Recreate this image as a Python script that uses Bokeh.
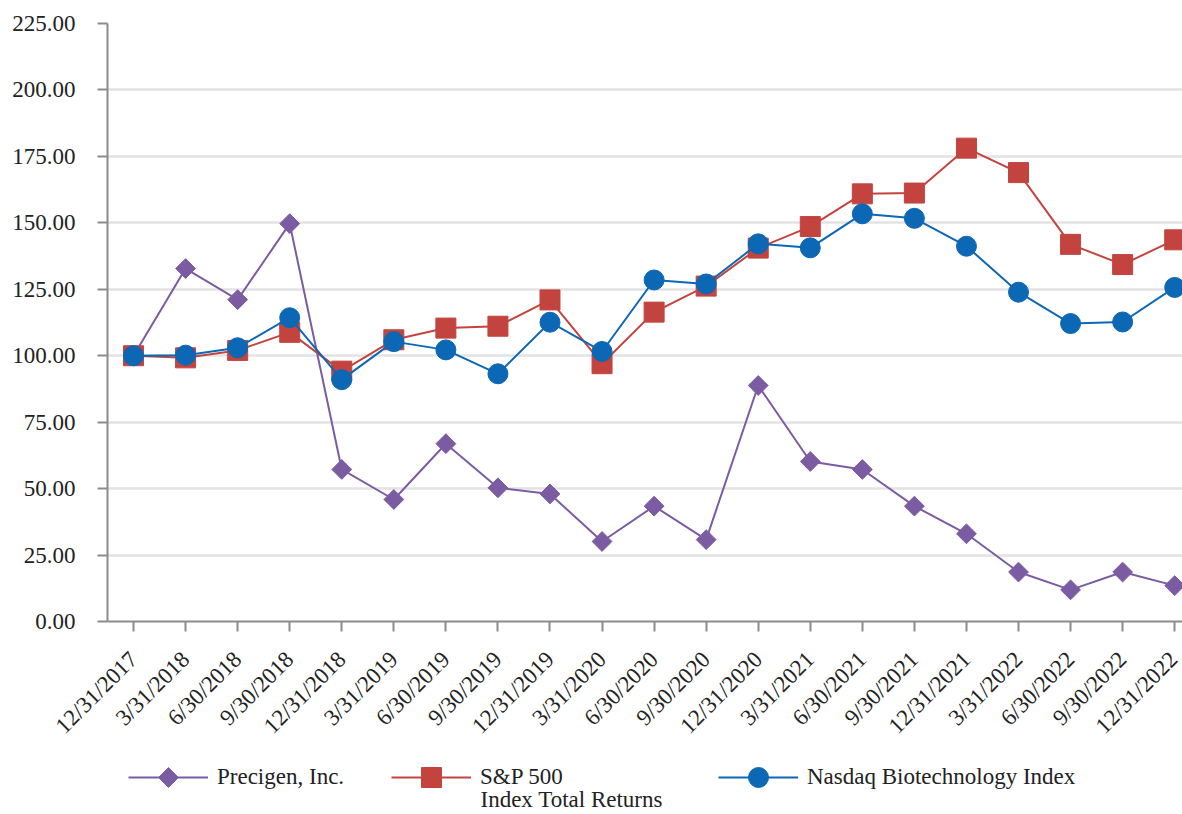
import math
from bokeh.plotting import figure
from bokeh.layouts import column
from bokeh.models import Range1d, FixedTicker, NumeralTickFormatter, Legend, Label
from bokeh.embed import file_html
from bokeh.resources import INLINE

dates = ["12/31/2017", "3/31/2018", "6/30/2018", "9/30/2018", "12/31/2018",
         "3/31/2019", "6/30/2019", "9/30/2019", "12/31/2019", "3/31/2020",
         "6/30/2020", "9/30/2020", "12/31/2020", "3/31/2021", "6/30/2021",
         "9/30/2021", "12/31/2021", "3/31/2022", "6/30/2022", "9/30/2022",
         "12/31/2022"]
precigen = [100.0, 132.8, 121.1, 149.7, 57.2, 45.9, 66.9, 50.3, 48.0, 30.1,
            43.4, 30.8, 88.8, 60.2, 57.2, 43.4, 33.0, 18.6, 11.9, 18.6, 13.5]
sp500 = [100.0, 99.2, 102.0, 108.8, 94.2, 106.0, 110.4, 111.1, 121.0, 97.0,
         116.4, 126.2, 140.5, 148.6, 160.9, 161.2, 178.1, 168.9, 141.9, 134.3, 143.6]
nbi = [100.0, 100.2, 103.0, 114.3, 91.0, 105.3, 102.2, 93.2, 112.6, 101.6,
       128.5, 127.0, 142.1, 140.6, 153.4, 151.7, 141.2, 123.9, 112.1, 112.7, 125.7]
y_ticks = [0, 25, 50, 75, 100, 125, 150, 175, 200, 225]
names = ["Precigen, Inc.", "S&P 500", "Nasdaq Biotechnology Index"]
sp_second_line = "Index Total Returns"

xs = list(range(len(dates)))
FONT = "Liberation Serif"
TEXT = "#222222"
PURPLE = "#7B5CA3"
RED = "#C3443F"
BLUE = "#0C67B4"
LEFT = 107

MAIN_H = 752
p = figure(width=1182, height=MAIN_H, output_backend="svg", toolbar_location=None,
           x_range=Range1d(-0.5, 20.15), y_range=Range1d(0, 225),
           min_border_left=LEFT, min_border_right=0, min_border_top=23,
           min_border_bottom=MAIN_H - 621)
p.outline_line_color = None
p.background_fill_color = "white"

p.xaxis.ticker = FixedTicker(ticks=xs)
p.xaxis.major_label_overrides = {i: d for i, d in enumerate(dates)}
p.xaxis.major_label_orientation = math.pi / 4
p.yaxis.ticker = FixedTicker(ticks=y_ticks)
p.yaxis.formatter = NumeralTickFormatter(format="0.00")
for ax in (p.xaxis[0], p.yaxis[0]):
    ax.axis_line_color = "#8C8C8C"
    ax.axis_line_width = 2
    ax.major_tick_line_color = "#8C8C8C"
    ax.major_tick_line_width = 2
    ax.major_tick_out = 10
    ax.major_tick_in = 0
    ax.minor_tick_line_color = None
    ax.major_label_text_font = FONT
    ax.major_label_text_font_size = "23px"
    ax.major_label_text_color = TEXT
p.yaxis.major_label_standoff = 22
p.xaxis.major_label_standoff = 24

p.xgrid.grid_line_color = None
p.ygrid.grid_line_color = "#E3E3E3"
p.ygrid.grid_line_width = 2.5

DIAMOND = dict(marker="square", angle=math.pi / 4, size=14,
               fill_color=PURPLE, line_color=PURPLE)
p.line(xs, precigen, line_color=PURPLE, line_width=2)
p.scatter(xs, precigen, **DIAMOND)
p.line(xs, sp500, line_color=RED, line_width=2)
p.scatter(xs, sp500, marker="square", size=20, fill_color=RED, line_color=RED)
p.line(xs, nbi, line_color=BLUE, line_width=2)
p.scatter(xs, nbi, marker="circle", size=20, fill_color=BLUE, line_color=BLUE)

# ---- legend strip: its own figure with pixel-unit ranges ----
LG_H = 814 - MAIN_H
lg = figure(width=1182, height=LG_H, output_backend="svg", toolbar_location=None,
            x_range=Range1d(LEFT, 1182), y_range=Range1d(0, LG_H),
            x_axis_location=None, y_axis_location=None,
            min_border_left=LEFT, min_border_right=0, min_border_top=0,
            min_border_bottom=0, outline_line_color=None)
lg.grid.visible = False
# copies of the series for the legend keys, on a range that keeps them out of view
lg.extra_y_ranges = {"hidden": Range1d(5000, 5001)}
lg.extra_x_ranges = {"hidden": Range1d(5000, 5001)}
H = dict(x_range_name="hidden", y_range_name="hidden")
keys = [
    [lg.line(xs, precigen, line_color=PURPLE, line_width=2, **H)],
    [lg.line(xs, sp500, line_color=RED, line_width=2, **H),
     lg.scatter(xs, sp500, marker="square", fill_color=RED, line_color=RED, **H)],
    [lg.line(xs, nbi, line_color=BLUE, line_width=2, **H),
     lg.scatter(xs, nbi, marker="circle", fill_color=BLUE, line_color=BLUE, **H)],
]

CENTER = 25          # legend row centre, px from top of strip
GW = 80              # legend glyph width
key_left = [128, 391, 718]   # page x where each legend key starts
for name, r, kx in zip(names, keys, key_left):
    leg = Legend(items=[(name, r)], location=(kx - LEFT, LG_H - CENTER - 25),
                 orientation="horizontal")
    leg.label_text_font = FONT
    leg.label_text_font_size = "23px"
    leg.label_text_color = TEXT
    leg.border_line_color = None
    leg.background_fill_alpha = 0
    leg.glyph_width = GW
    leg.glyph_height = 50
    leg.label_standoff = 9
    leg.label_height = 20
    leg.padding = 0
    leg.margin = 0
    lg.add_layout(leg, "center")

# diamond key for the Precigen legend entry (legend keys ignore marker angle)
lg.scatter([key_left[0] + GW / 2], [LG_H - CENTER], **DIAMOND)

lg.add_layout(Label(x=key_left[1] + GW + 9, y=LG_H - 47, x_units="data", y_units="data",
                    text=sp_second_line, text_font=FONT, text_font_size="23px",
                    text_color=TEXT, text_baseline="middle"))

open("out.html", "w").write(file_html(column(p, lg), INLINE))
